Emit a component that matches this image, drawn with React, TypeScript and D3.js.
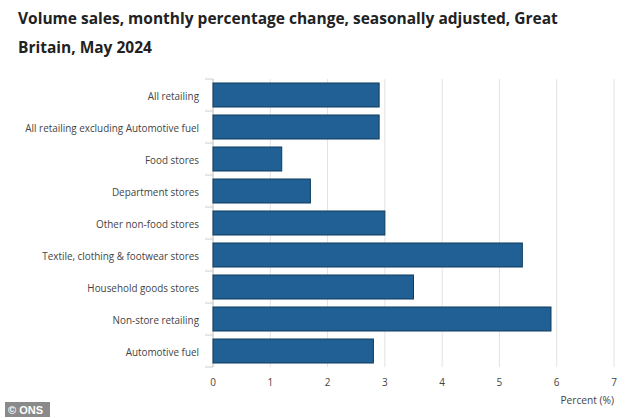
import React from "react";
import * as d3 from "d3";

const categories = [
  "All retailing",
  "All retailing excluding Automotive fuel",
  "Food stores",
  "Department stores",
  "Other non-food stores",
  "Textile, clothing & footwear stores",
  "Household goods stores",
  "Non-store retailing",
  "Automotive fuel",
];
const values = [2.9, 2.9, 1.2, 1.7, 3.0, 5.4, 3.5, 5.9, 2.8];
const xTicks = [0, 1, 2, 3, 4, 5, 6, 7];
const title1 = "Volume sales, monthly percentage change, seasonally adjusted, Great";
const title2 = "Britain, May 2024";

const W = 633, H = 418;
const left = 213, right = 614, top = 79, bottom = 367;
const font = "'Open Sans', sans-serif";

export default function App() {
  const x = d3.scaleLinear().domain([0, 7]).range([left, right]);
  const y = d3.scaleBand<string>().domain(categories).range([top, bottom]).paddingInner(0.25).paddingOuter(0.125);
  const step = y.step();
  return (
    <svg width={W} height={H} style={{ position: "absolute", left: 0, top: 0, background: "#fff" }}>
      <rect width={W} height={H} fill="#fff" />
      <text x={18} y={24} fontFamily={font} fontWeight={700} fontSize={15.5} fill="#222">{title1}</text>
      <text x={18} y={53} fontFamily={font} fontWeight={700} fontSize={15.5} fill="#222">{title2}</text>
      {xTicks.map((t) => (
        <line key={"g" + t} x1={x(t)} x2={x(t)} y1={top} y2={bottom} stroke="#e2e2e2" strokeWidth={1} />
      ))}
      <line x1={left} x2={left} y1={top} y2={bottom} stroke="#ccc" />
      {categories.map((c, i) => (
        <line key={"t" + i} x1={left - 8} x2={left} y1={top + step * (i + 1)} y2={top + step * (i + 1)} stroke="#ccc" />
      ))}
      <line x1={left - 8} x2={left} y1={top} y2={top} stroke="#ccc" />
      {categories.map((c, i) => (
        <rect key={"b" + i} x={x(0)} y={y(c)!} width={x(values[i]) - x(0)} height={y.bandwidth()}
          fill="#206095" stroke="#0f3b5c" strokeWidth={1} />
      ))}
      {categories.map((c, i) => (
        <text key={"l" + i} x={199} y={y(c)! + y.bandwidth() / 2 + 1.5} dy="0.35em" textAnchor="end"
          fontFamily={font} fontSize={9.9} fill="#444">{c}</text>
      ))}
      {xTicks.map((t) => (
        <text key={"x" + t} x={x(t)} y={386} textAnchor="middle" fontFamily={font} fontSize={10} fill="#444">{t}</text>
      ))}
      <text x={right} y={404} textAnchor="end" fontFamily={font} fontSize={10.2} fill="#444">Percent (%)</text>
      <rect x={5} y={402} width={45} height={15} fill="#8a8a8a" />
      <text x={8} y={414} fontFamily="'Liberation Sans', Arial, sans-serif" fontWeight={700} fontSize={11} fill="#fff">© ONS</text>
    </svg>
  );
}
